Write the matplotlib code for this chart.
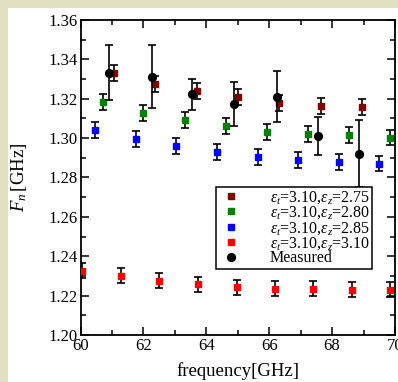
import matplotlib
matplotlib.use("Agg")
import matplotlib.pyplot as plt
from matplotlib.patches import Rectangle
from matplotlib.ticker import MultipleLocator

plt.rcParams['font.family'] = ['Liberation Serif', 'DejaVu Serif']
plt.rcParams['mathtext.fontset'] = 'custom'
plt.rcParams['mathtext.it'] = 'Liberation Serif:italic'
plt.rcParams['mathtext.rm'] = 'Liberation Serif'

# data
x_275 = [61.07, 62.36, 63.70, 65.02, 66.32, 67.64, 68.95]
y_275 = [1.3331, 1.3274, 1.3238, 1.3208, 1.3177, 1.3165, 1.3158]
e_275 = [0.004] * 7

x_280 = [60.70, 62.00, 63.32, 64.64, 65.93, 67.24, 68.54, 69.83]
y_280 = [1.3182, 1.3126, 1.3092, 1.3062, 1.3033, 1.3021, 1.3016, 1.3003]
e_280 = [0.004] * 8

x_285 = [60.46, 61.75, 63.05, 64.34, 65.63, 66.92, 68.21, 69.50]
y_285 = [1.3042, 1.2996, 1.2960, 1.2931, 1.2906, 1.2888, 1.2879, 1.2871]
e_285 = [0.004] * 8

x_310 = [60.06, 61.30, 62.50, 63.73, 64.97, 66.20, 67.40, 68.62, 69.85]
y_310 = [1.2327, 1.2300, 1.2275, 1.2258, 1.2243, 1.2234, 1.2234, 1.2229, 1.2229]
e_310 = [0.0038] * 9

x_meas = [60.90, 62.26, 63.55, 64.87, 66.24, 67.54, 68.84]
y_meas = [1.3332, 1.3312, 1.3222, 1.3173, 1.3211, 1.3011, 1.2921]
e_meas = [0.014, 0.016, 0.008, 0.011, 0.013, 0.0098, 0.017]

labels = [r'$\varepsilon_t$=3.10,$\varepsilon_z$=2.75',
          r'$\varepsilon_t$=3.10,$\varepsilon_z$=2.80',
          r'$\varepsilon_t$=3.10,$\varepsilon_z$=2.85',
          r'$\varepsilon_t$=3.10,$\varepsilon_z$=3.10',
          'Measured']

W, H = 398, 382
fig = plt.figure(figsize=(W / 100, H / 100), dpi=100)
fig.patch.set_facecolor('#e0dfc0')
fig.patches.append(Rectangle((8 / W, 0), 1, 1 - 8 / H, transform=fig.transFigure,
                             facecolor='white', edgecolor='none', zorder=-10))

ax = fig.add_axes([80.5 / W, (H - 335) / H, (395 - 80.5) / W, (335 - 20) / H])

series = [(x_275, y_275, e_275, '#800000', 's', 4.7),
          (x_280, y_280, e_280, '#008000', 's', 4.7),
          (x_285, y_285, e_285, '#0000ff', 's', 4.7),
          (x_310, y_310, e_310, '#ff0000', 's', 4.7),
          (x_meas, y_meas, e_meas, 'black', 'o', 5.6)]

for i, ((xs, ys, es, c, m, ms), lab) in enumerate(zip(series, labels)):
    ax.errorbar(xs, ys, yerr=es, fmt=m, color=c, ms=ms, mec=c, mfc=c,
                ecolor='black', elinewidth=1.2, capsize=2.6, capthick=1.2,
                label=lab, zorder=3 + i)

ax.set_xlim(60, 70)
ax.set_ylim(1.20, 1.36)
ax.xaxis.set_major_locator(MultipleLocator(2))
ax.xaxis.set_minor_locator(MultipleLocator(1))
ax.yaxis.set_major_locator(MultipleLocator(0.02))
ax.yaxis.set_minor_locator(MultipleLocator(0.01))
ax.yaxis.set_major_formatter(matplotlib.ticker.FormatStrFormatter('%.2f'))
ax.tick_params(which='both', direction='in', top=True, right=True, width=1.1,
               labelsize=12, pad=2)
ax.tick_params(which='major', length=6)
ax.tick_params(which='minor', length=3.5)
for s in ax.spines.values():
    s.set_linewidth(1.3)

ax.set_xlabel('frequency[GHz]', fontsize=13.5, labelpad=6)
ax.set_ylabel(r'$F_n\,$[GHz]', fontsize=13.5, labelpad=14)

h, l = ax.get_legend_handles_labels()
h = [hh[0] for hh in h]
leg = ax.legend(h, l, loc='upper left', bbox_to_anchor=((216 - 80.5) / (395 - 80.5), (335 - 187) / 315),
                fontsize=11.5, frameon=True, fancybox=False, edgecolor='black',
                framealpha=1, labelspacing=-0.1, handletextpad=1.6, handlelength=1.6,
                borderpad=0.15, borderaxespad=0, markerscale=1.0)
leg.get_frame().set_linewidth(1.1)
leg.set_zorder(20)

fig.savefig('out.png', dpi=100, facecolor=fig.get_facecolor())
